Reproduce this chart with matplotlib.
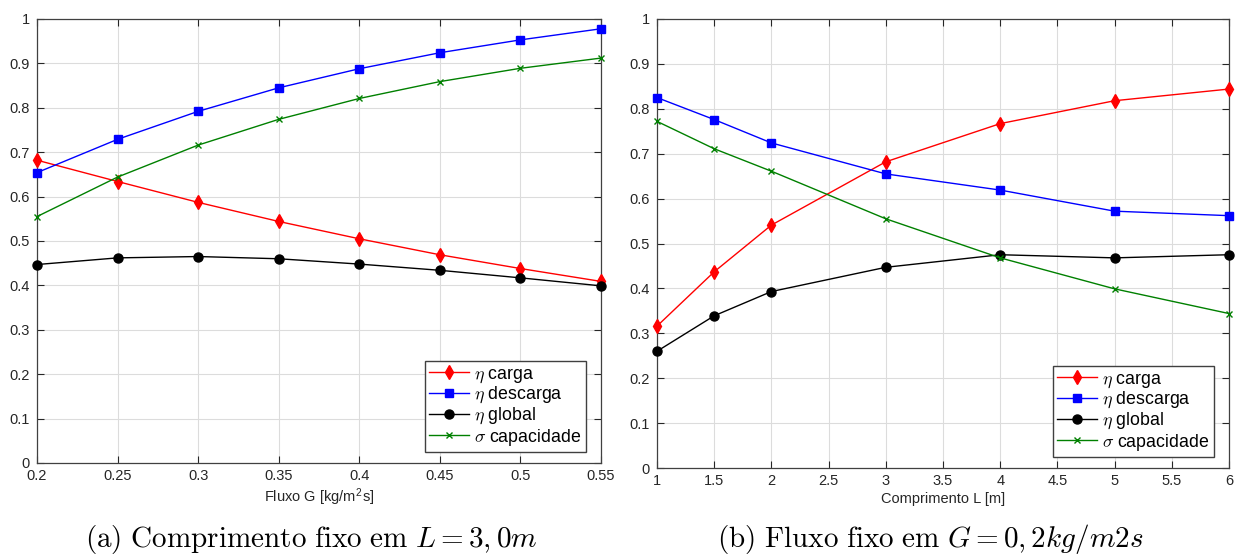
import matplotlib
matplotlib.use("Agg")
import matplotlib.pyplot as plt
from matplotlib.ticker import FuncFormatter

plt.rcParams["font.family"] = ["Liberation Sans", "DejaVu Sans"]
plt.rcParams["mathtext.fontset"] = "cm"

# (a) fixed length L = 3.0 m, varying mass flux G
fluxo_g = [0.20, 0.25, 0.30, 0.35, 0.40, 0.45, 0.50, 0.55]
a_eta_carga = [0.682, 0.634, 0.587, 0.544, 0.505, 0.469, 0.438, 0.409]
a_eta_descarga = [0.654, 0.729, 0.792, 0.845, 0.888, 0.924, 0.953, 0.978]
a_eta_global = [0.447, 0.462, 0.465, 0.460, 0.448, 0.434, 0.417, 0.399]
a_sigma_cap = [0.555, 0.644, 0.716, 0.774, 0.821, 0.859, 0.889, 0.912]

# (b) fixed mass flux G = 0.2 kg/m2s, varying length L
comprimento_l = [1, 1.5, 2, 3, 4, 5, 6]
b_eta_carga = [0.316, 0.437, 0.541, 0.682, 0.767, 0.818, 0.844]
b_eta_descarga = [0.825, 0.776, 0.724, 0.655, 0.619, 0.572, 0.562]
b_eta_global = [0.260, 0.339, 0.393, 0.447, 0.475, 0.468, 0.475]
b_sigma_cap = [0.772, 0.711, 0.661, 0.555, 0.468, 0.399, 0.344]

labels = [r"$\eta$ carga", r"$\eta$ descarga", r"$\eta$ global", r"$\sigma$ capacidade"]
styles = [
    dict(color="#ff0000", marker="d", markersize=7),
    dict(color="#0000ff", marker="s", markersize=5.5),
    dict(color="#000000", marker="o", markersize=6.5),
    dict(color="#008000", marker="x", markersize=5, markeredgewidth=1.0),
]

xticks_a = [0.2, 0.25, 0.3, 0.35, 0.4, 0.45, 0.5, 0.55]
xticks_b = [1, 1.5, 2, 2.5, 3, 3.5, 4, 4.5, 5, 5.5, 6]
yticks = [0, 0.1, 0.2, 0.3, 0.4, 0.5, 0.6, 0.7, 0.8, 0.9, 1]

fig = plt.figure(figsize=(12.43, 5.57), dpi=100)
ax_a = fig.add_axes([37 / 1243, 1 - 463 / 557, 564 / 1243, 444 / 557])
ax_b = fig.add_axes([657 / 1243, 1 - 468 / 557, 572 / 1243, 449 / 557])

fmt = FuncFormatter(lambda v, p: f"{v:g}")
edge = "#262626"


def style_axes(ax, xticks, xlim, xlabel):
    ax.set_xlim(*xlim)
    ax.set_ylim(0, 1)
    ax.set_xticks(xticks)
    ax.set_yticks(yticks)
    ax.xaxis.set_major_formatter(fmt)
    ax.yaxis.set_major_formatter(fmt)
    ax.grid(True, color="#dcdcdc", linewidth=0.8)
    ax.set_axisbelow(True)
    ax.tick_params(direction="in", top=True, right=True, length=5, width=0.8,
                   labelsize=10.5, colors=edge)
    ax.tick_params(axis="y", pad=5)
    ax.tick_params(axis="x", pad=4)
    for s in ax.spines.values():
        s.set_color("#404040")
        s.set_linewidth(0.9)
    ax.set_xlabel(xlabel, fontsize=10.5, color=edge, labelpad=3)


series_a = [a_eta_carga, a_eta_descarga, a_eta_global, a_sigma_cap]
series_b = [b_eta_carga, b_eta_descarga, b_eta_global, b_sigma_cap]

for ys, lab, st in zip(series_a, labels, styles):
    ax_a.plot(fluxo_g, ys, linewidth=1.0, label=lab, clip_on=False, zorder=3, **st)
for ys, lab, st in zip(series_b, labels, styles):
    ax_b.plot(comprimento_l, ys, linewidth=1.0, label=lab, clip_on=False, zorder=3, **st)

style_axes(ax_a, xticks_a, (0.2, 0.55), r"Fluxo G [kg/m$^\mathregular{2}$s]")
style_axes(ax_b, xticks_b, (1, 6), "Comprimento L [m]")

for ax, (w, h) in ((ax_a, (564, 444)), (ax_b, (572, 449))):
    leg = ax.legend(loc="lower right", bbox_to_anchor=(1 - 15 / w, 11 / h),
                    borderaxespad=0, fontsize=12.8, frameon=True, fancybox=False,
                    handlelength=2.25, handletextpad=0.3,
                    labelspacing=0.02, borderpad=0.25, framealpha=1)
    leg.get_frame().set_edgecolor("#404040")
    leg.get_frame().set_linewidth(1.0)

fig.text(311 / 1243, 1 - 539 / 557,
         r"$\mathrm{(a)\ Comprimento\ fixo\ em}\ L = 3,0m$",
         ha="center", va="center", fontsize=21)
fig.text(930 / 1243, 1 - 539 / 557,
         r"$\mathrm{(b)\ Fluxo\ fixo\ em}\ G = 0,2kg/m2s$",
         ha="center", va="center", fontsize=21)

fig.savefig("out.png", dpi=100)
